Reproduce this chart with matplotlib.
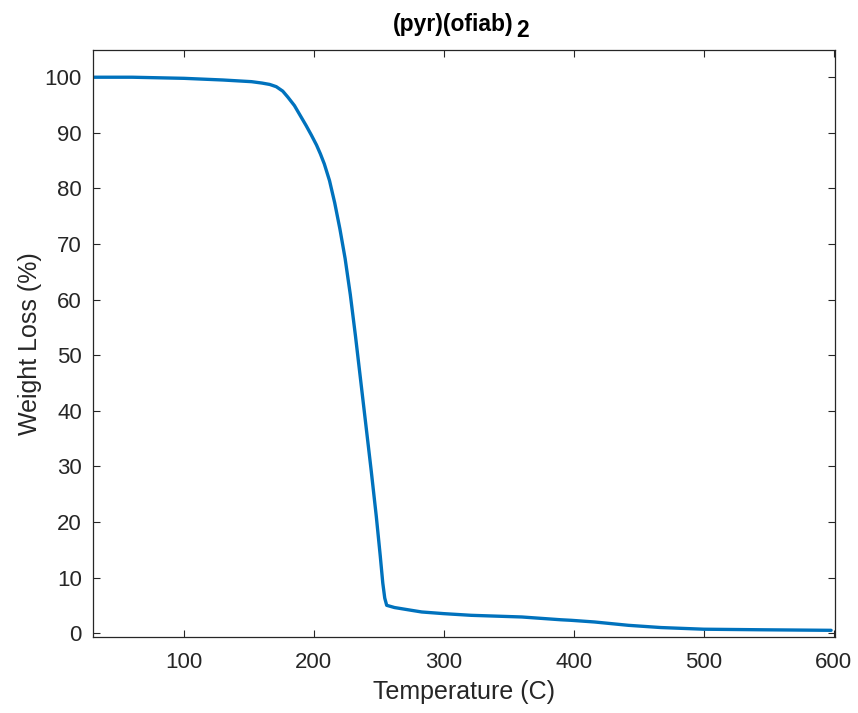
import matplotlib
matplotlib.use("Agg")
import matplotlib.pyplot as plt

# TGA curve, temperature in C and remaining weight in %
temperature = [31, 60, 100, 130, 152, 160, 166, 171, 176, 180, 185, 190, 194, 198,
               202, 205, 208, 212, 216, 220, 224, 228, 232, 236, 240, 244, 248,
               251, 253, 254.5, 256, 262, 275, 283, 300, 321, 360, 390, 398, 416,
               442, 467, 500, 544, 598]
weight = [100.0, 100.0, 99.8, 99.5, 99.2, 98.95, 98.7, 98.3, 97.5, 96.4, 94.9, 92.9,
          91.3, 89.6, 87.8, 86.2, 84.4, 81.4, 77.4, 72.7, 67.4, 60.9, 53.4, 45.4,
          37.4, 29.4, 21.0, 14.0, 9.0, 6.3, 5.0, 4.6, 4.1, 3.8, 3.5, 3.2, 2.9,
          2.4, 2.3, 2.0, 1.4, 1.0, 0.7, 0.6, 0.5]

xticks = [100, 200, 300, 400, 500, 600]
yticks = [0, 10, 20, 30, 40, 50, 60, 70, 80, 90, 100]

plt.rcParams['font.family'] = ['Liberation Sans', 'DejaVu Sans']
grey = '#262626'

fig = plt.figure(figsize=(8.58, 7.13), dpi=100)
ax = fig.add_axes([0.1084, 0.1066, 0.8648, 0.8233])

ax.plot(temperature, weight, color='#0072BD', linewidth=2.4,
        solid_joinstyle='round', solid_capstyle='round')

ax.set_xlim(30, 601)
ax.set_ylim(-0.7, 104.9)
ax.set_xticks(xticks)
ax.set_yticks(yticks)
ax.tick_params(direction='in', top=True, right=True, length=5, width=0.8,
               colors=grey, labelsize=16)
ax.tick_params(axis='x', pad=11)
ax.tick_params(axis='y', pad=8)
for s in ax.spines.values():
    s.set_color(grey)
    s.set_linewidth(0.9)

ax.set_xlabel('Temperature (C)', fontsize=18, color=grey, labelpad=5)
ax.set_ylabel('Weight Loss (%)', fontsize=18, color=grey, labelpad=2)

# title with a full-size lowered subscript
title = ax.set_title('(pyr)(ofiab)', fontsize=16.5, fontweight='bold',
                     color='black', pad=14, x=0.485)
ax.annotate('2', xy=(1, 0), xycoords=title, xytext=(2, -5),
            textcoords='offset points', fontsize=16.5, fontweight='bold',
            color='black', ha='left', va='bottom')

fig.savefig('out.png', dpi=100)
